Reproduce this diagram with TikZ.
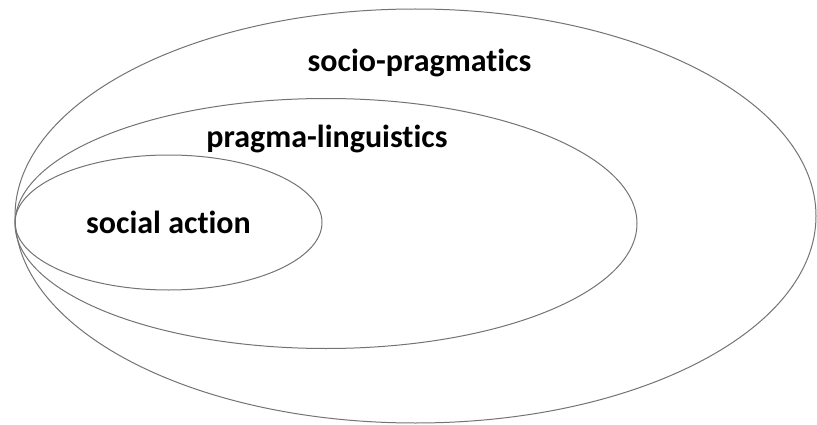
\documentclass[tikz,border=0pt]{standalone}
\usepackage{fontspec}
\setmainfont{Carlito}[Ligatures=NoCommon]
\usepackage{tikz}
\usetikzlibrary{positioning}

\begin{document}
\begin{tikzpicture}[x=1pt, y=1pt, line width=1pt,
    rim/.style={draw=gray!90!black},
    lbl/.style={font=\fontsize{32}{38}\selectfont\bfseries, inner sep=0pt}]
        \useasboundingbox (0,0) rectangle (817,424);
        \draw[rim] (415.5,208) ellipse [x radius=400.5, y radius=207];
        \draw[rim] (326,200.5) ellipse [x radius=311, y radius=125];
        \draw[rim] (168.5,201.5) ellipse [x radius=153.5, y radius=67.5];
        \node[lbl] (soc) at (419.5,361) {socio-pragmatics};
        \node[lbl] (prag) at (327,285) {pragma-linguistics};
        \node[lbl] (act) at (168.5,202) {social action};
      \end{tikzpicture}
\end{document}
